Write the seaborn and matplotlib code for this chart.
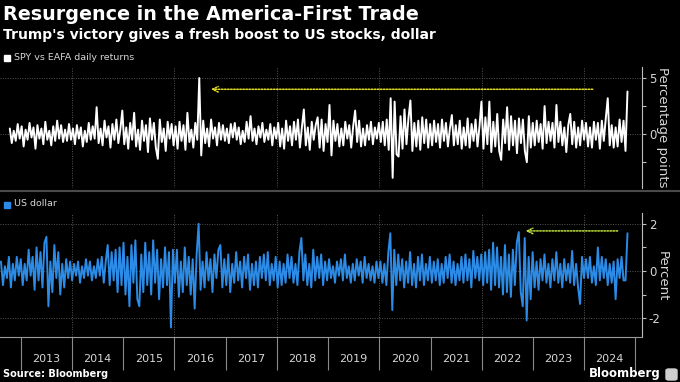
"""Bloomberg-style chart: SPY vs EAFA daily returns and the US dollar."""
import matplotlib
matplotlib.use("Agg")
import matplotlib.pyplot as plt
from matplotlib.patches import Rectangle, FancyBboxPatch
import pandas as pd
import seaborn as sns

# spread of SPY over EAFA daily returns, percentage points (sampled, one row per year)
SPY_VS_EAFA = [
    0.5, -0.8, 0.3, -0.6, 0.9, -0.4,  # 2012 (from Oct)
    0.7, -1.1, 0.4, -0.5, 1.0, -0.3, 0.6, -1.3, 0.8, -0.4, 0.5, -0.9, 1.1,
    -0.5, 0.3, -1.0, 0.7, -0.6, 1.2, -0.4, 0.8, -0.7, 0.4, -0.6, 0.9, -0.5,  # 2013
    0.5, -0.9, 0.8, -0.4, 0.6, -1.1, 0.3, -0.7, 1.0, -0.5, 0.7, -0.4, 2.4,
    -0.8, 0.5, -1.0, 1.2, -0.3, 0.7, -1.2, 0.9, -0.5, 1.3, -0.8, 0.4, 2.1,  # 2014
    -0.9, 0.6, -1.3, 1.0, -0.5, 1.9, -1.1, 0.4, -1.4, 1.2, -0.6, 0.8, -1.6,
    1.4, -0.5, 1.0, -1.2, -2.2, 1.3, -0.7, 0.5, -1.5, 1.1, -0.4, 0.9, -1.0,  # 2015
    0.7, -1.3, 1.1, -0.6, 0.8, -1.4, 1.9, -0.7, 0.4, -1.2, 1.0, -0.5, 5.0,
    -1.9, 1.2, -0.8, 0.5, -1.1, 1.3, -0.4, 0.6, -1.0, 1.0, -0.5, 0.8, -0.6,  # 2016
    0.5, -0.8, 0.9, -0.3, 1.0, -0.5, 0.6, -0.9, 0.3, -0.7, 1.1, -0.4, 1.6,
    -0.6, 0.5, -0.9, 0.7, -0.3, 1.0, -0.7, 0.4, -0.5, 0.9, -1.0, 0.6, -0.4,  # 2017
    1.0, -1.1, 0.5, -1.3, 1.2, -0.6, 0.7, -1.0, 1.1, -0.5, 1.3, -1.2, 0.6,
    2.2, -1.0, 0.6, -1.4, 1.1, -0.5, 0.8, 1.5, -1.2, 1.3, -1.5, 0.9, -0.7,  # 2018
    2.6, -1.9, 1.2, -0.6, 0.9, -1.1, 0.5, -1.0, 1.1, -0.4, 0.8, -1.2, 0.7,
    2.1, -0.7, 1.2, -1.1, 0.5, -1.0, 0.8, -0.5, 1.1, -0.9, 0.6, -0.4, 1.0,  # 2019
    -0.7, 1.1, -1.0, 1.3, -1.4, 3.2, -3.9, 2.9, -1.8, -2.0, 1.6, -1.3, 2.2,
    -0.9, 1.4, 3.0, -1.5, 1.0, -1.1, 1.2, -1.4, 1.5, -0.8, 1.3, -1.2, 0.9,  # 2020
    -1.0, 1.2, -0.7, 0.9, -1.2, 1.3, -0.6, 1.0, -1.1, 0.5, 1.7, -1.0, 0.8,
    -0.9, 1.2, -1.3, 0.6, -1.0, 1.4, -1.2, 0.9, -0.6, 1.3, -1.1, 0.7, 2.9,  # 2021
    -1.3, 1.5, -0.9, 2.9, -1.6, 1.1, -1.1, 1.8, -1.5, -2.3, 1.3, -0.8, 2.4,
    -1.4, 1.6, -1.0, 1.2, -1.7, 1.4, -0.8, 1.3, -1.5, -2.5, 1.6, -1.2, 1.0,  # 2022
    -1.0, 1.2, -0.7, 0.9, -1.3, 2.5, -0.8, 1.1, -0.6, 1.0, -1.2, 2.6, -0.7,
    1.1, -1.0, 0.6, -1.6, 0.8, 1.8, -0.9, 1.1, -1.2, 0.6, -1.0, 1.2, -0.5,  # 2023
    1.0, -1.1, 0.6, -1.2, 1.1, -0.5, 1.0, -1.3, 1.2, -0.6, 1.4, 3.2,
    -1.0, 0.8, -1.2, 0.6, -1.1, 1.3, -0.7, 1.2, -1.5, 3.8,  # 2024 (to Nov 6)
]

# US dollar daily change, percent (sampled, one row per year)
US_DOLLAR = [
    0.4, -0.6, 0.2, -0.3, 0.6, -0.7, 0.3, -0.4, 0.6, -0.2,  # 2012 (from Aug)
    0.5, -0.6, 0.3, -0.4, 0.9, -0.2, 0.6, -0.8, 1.0, -0.4, 0.8, -0.7, 1.2,
    1.45, -1.5, 0.4, -0.9, 1.1, -0.3, 0.8, -1.0, 0.3, -0.7, 0.5, -0.3, 0.4,  # 2013
    -0.4, 0.3, -0.2, 0.4, -0.5, 0.2, -0.3, 0.5, -0.2, 0.4, -0.4, 0.2, -0.3,
    0.5, -0.2, 0.6, -0.5, 0.4, 1.1, -0.6, 0.8, -0.4, 0.9, -0.9, 1.0, -0.6,  # 2014
    1.2, -1.0, 0.6, -1.5, 1.1, -0.5, 1.3, -1.2, -1.5, 0.7, -0.9, 1.2, -0.6,
    0.8, -1.0, 1.3, -0.5, 0.9, -1.2, 0.5, -0.7, 1.0, -0.6, 0.8, -2.4, 0.9,  # 2015
    -0.5, 0.9, -1.1, 0.4, -0.9, 1.0, -0.6, 0.6, -1.0, 0.5, -1.6, 0.7, 2.0,
    -0.8, 0.4, -0.7, 0.8, -0.4, 0.5, -0.9, 0.7, -0.3, 0.9, 1.1, -0.7, 0.5,  # 2016
    -0.6, 0.7, -0.9, 0.3, -0.5, 0.8, -0.4, 0.4, -0.7, 0.6, -0.3, 0.7, -0.8,
    0.3, -0.6, 0.4, -0.7, 0.6, -0.3, 0.7, -0.4, 0.8, -0.6, 0.3, -0.4, 0.6,  # 2017
    -0.7, 0.4, -0.6, 0.3, -0.5, 0.7, -0.3, 0.6, -0.5, 0.3, -0.6, 0.8, 1.4,
    -0.4, 0.7, -0.6, 0.3, -0.7, 0.9, -0.4, 0.6, -0.3, 0.7, -0.6, 0.4, -0.4,  # 2018
    0.5, -0.3, 0.2, -0.5, 0.4, -0.2, 0.5, -0.4, 0.7, -0.3, 0.2, -0.5, 0.3,
    -0.4, 0.5, -0.2, 0.4, -0.5, 0.6, -0.3, 0.3, -0.4, 0.2, -0.5, 0.4, -0.3,  # 2019
    0.4, -0.5, 0.3, -0.6, 0.8, 1.6, -1.66, 0.9, -0.6, 0.7, -0.4, 0.5, -0.7,
    0.4, -0.5, 0.8, -0.6, 0.3, -0.7, 0.6, -0.4, 0.7, -0.6, 0.3, -0.4, 0.6,  # 2020
    -0.5, 0.4, -0.4, 0.5, -0.6, 0.3, -0.5, 0.6, -0.3, 0.7, -0.5, 0.4, -0.6,
    0.3, -0.4, 0.6, -0.5, 0.7, -0.4, 0.5, -0.7, 0.85, -0.3, 0.6, -0.4, 0.7,  # 2021
    -0.6, 0.8, -0.5, 0.9, -0.8, 1.2, -0.6, 1.0, -0.7, 0.6, -1.0, 1.1, -0.9,
    0.7, -1.1, 0.9, -0.6, 1.2, 1.65, -0.9, -1.5, 1.4, -2.1, 0.6, -1.2, 0.8,  # 2022
    -0.7, 0.4, -0.8, 0.5, -0.4, 0.7, -0.5, 0.3, -0.7, 0.5, -0.4, 0.8, -0.5,
    0.3, -0.7, 0.5, -0.4, 0.3, -0.5, 0.85, -0.6, 0.3, -0.7, -1.4, 0.6, -0.3,  # 2023
    0.5, -0.3, 0.6, -0.5, 0.2, -0.6, 1.0, -0.4, 0.6, -0.3, 0.5, -0.6,
    0.3, -0.5, 0.4, -1.2, 0.5, -0.3, 0.6, -0.4, -0.4, 1.6,  # 2024 (to Nov 6)
]

SPY_START, USD_START, LAST_DAY = "2012-10-13", "2012-08-11", "2024-11-06"
YEARS = list(range(2013, 2025))

BG = "black"
WHITE = "#ffffff"
BLUE = "#2b8be6"
GRID = "#555555"
TEXT = "#d6d6d6"
XLIM = (pd.Timestamp("2012-08-04"), pd.Timestamp("2025-02-17"))


def style_panel(ax, ylim, major, minor):
    ax.set_facecolor(BG)
    ax.set_xlim(XLIM)
    ax.set_ylim(ylim)
    for side in ("top", "left", "bottom"):
        ax.spines[side].set_visible(False)
    ax.spines["right"].set_color("#bdbdbd")
    ax.spines["right"].set_linewidth(0.8)
    ax.yaxis.tick_right()
    ax.set_yticks(major)
    ax.set_yticks(minor, minor=True)
    ax.yaxis.set_major_formatter(matplotlib.ticker.FuncFormatter(lambda v, _: f"{v:g}"))
    ax.tick_params(axis="y", which="both", right=True, left=False, colors="#bdbdbd",
                   labelcolor=TEXT, direction="out", length=3, width=0.8, labelsize=8.5, pad=2)
    ax.grid(True, axis="y", which="major", color=GRID, linestyle=(0, (1, 1.5)), linewidth=0.7)
    for yr in range(2014, 2025, 2):
        ax.axvline(pd.Timestamp(f"{yr}-01-01"), color=GRID, linestyle=(0, (1, 1.5)),
                   linewidth=0.7, zorder=0)
    ax.set_xlabel("")
    ax.set_ylabel("")


fig = plt.figure(figsize=(6.8, 3.82), dpi=100, facecolor=BG)
sns.set_style("dark")
plt.rcParams["font.family"] = ["DejaVu Sans"]

ax_top = fig.add_axes([0, 0.508, 0.944, 0.317])
ax_bot = fig.add_axes([0, 0.118, 0.944, 0.325])

spy_dates = pd.date_range(SPY_START, LAST_DAY, periods=len(SPY_VS_EAFA))
usd_dates = pd.date_range(USD_START, LAST_DAY, periods=len(US_DOLLAR))

sns.lineplot(x=spy_dates, y=SPY_VS_EAFA, ax=ax_top, color=WHITE, linewidth=1.4, zorder=3)
sns.lineplot(x=usd_dates, y=US_DOLLAR, ax=ax_bot, color=BLUE, linewidth=1.4, zorder=3)

style_panel(ax_top, (-4.8, 6.0), [0, 5], [-2.5, 2.5])
style_panel(ax_bot, (-2.8, 2.47), [-2, 0, 2], [-1, 1])

ax_top.tick_params(axis="x", which="both", bottom=False, labelbottom=False)

# year ticks on the lower panel: long marks at year start, labels mid-year
ax_bot.spines["bottom"].set_visible(True)
ax_bot.spines["bottom"].set_color("#9a9a9a")
ax_bot.spines["bottom"].set_linewidth(0.8)
ax_bot.set_xticks([pd.Timestamp(f"{y}-01-01") for y in YEARS + [2025]])
ax_bot.set_xticks([pd.Timestamp(f"{y}-07-02") for y in YEARS], minor=True)
ax_bot.set_xticklabels([])
ax_bot.set_xticklabels([str(y) for y in YEARS], minor=True)
ax_bot.tick_params(axis="x", which="major", bottom=True, length=24, width=0.8,
                   color="#8a8a8a", direction="out")
ax_bot.tick_params(axis="x", which="minor", bottom=True, length=0, pad=12,
                   labelsize=8, labelcolor=TEXT)

# dotted arrows pointing back to the earlier extremes
ax_top.annotate("", xy=(pd.Timestamp("2016-09-17"), 4.0),
                xytext=(pd.Timestamp("2024-03-03"), 4.0),
                arrowprops=dict(arrowstyle="->", color="#e2dc1f", linestyle=(0, (1, 1)),
                                linewidth=1.1, shrinkA=0, shrinkB=0))
ax_bot.annotate("", xy=(pd.Timestamp("2022-11-10"), 1.7),
                xytext=(pd.Timestamp("2024-08-28"), 1.7),
                arrowprops=dict(arrowstyle="->", color="#bfe03a", linestyle=(0, (1, 1)),
                                linewidth=1.1, shrinkA=0, shrinkB=0))

# titles
fig.text(0.004, 1 - 20 / 382, "Resurgence in the America-First Trade", color=WHITE,
         fontsize=13.8, fontweight="bold", va="baseline", ha="left")
fig.text(0.004, 1 - 39 / 382, "Trump's victory gives a fresh boost to US stocks, dollar",
         color=WHITE, fontsize=10, fontweight="bold", va="baseline", ha="left")

# legends
fig.add_artist(Rectangle((4 / 680, 1 - 61 / 382), 6 / 680, 6 / 382,
                         transform=fig.transFigure, color=WHITE))
fig.text(14 / 680, 1 - 57 / 382, "SPY vs EAFA daily returns", color=TEXT,
         fontsize=6.8, va="center", ha="left")
fig.add_artist(Rectangle((4 / 680, 1 - 208 / 382), 6 / 680, 6 / 382,
                         transform=fig.transFigure, color=BLUE))
fig.text(14 / 680, 1 - 204 / 382, "US dollar", color=TEXT,
         fontsize=6.8, va="center", ha="left")

# axis titles on the right
fig.text(662 / 680, 1 - 127 / 382, "Percentage points", color=TEXT, fontsize=9.5,
         rotation=270, ha="center", va="center")
fig.text(662 / 680, 1 - 276 / 382, "Percent", color=TEXT, fontsize=9.5,
         rotation=270, ha="center", va="center")

# divider between panels
fig.add_artist(plt.Line2D([0, 1], [1 - 191 / 382] * 2, transform=fig.transFigure,
                          color="#4a4a4a", linewidth=1.5))

# footer
fig.text(0.004, 1 - 374 / 382, "Source: Bloomberg", color=WHITE, fontsize=7,
         fontweight="bold", va="center", ha="left")
fig.text(661 / 680, 1 - 374 / 382, "Bloomberg", color=WHITE, fontsize=8.5,
         fontweight="bold", va="center", ha="right")
fig.add_artist(FancyBboxPatch((666 / 680, 1 - 380 / 382), 11 / 680, 11 / 382,
                              boxstyle="round,pad=0,rounding_size=0.004",
                              transform=fig.transFigure, color="#cfcfcf"))

fig.savefig("out.png", dpi=100, facecolor=BG)
plt.close(fig)
